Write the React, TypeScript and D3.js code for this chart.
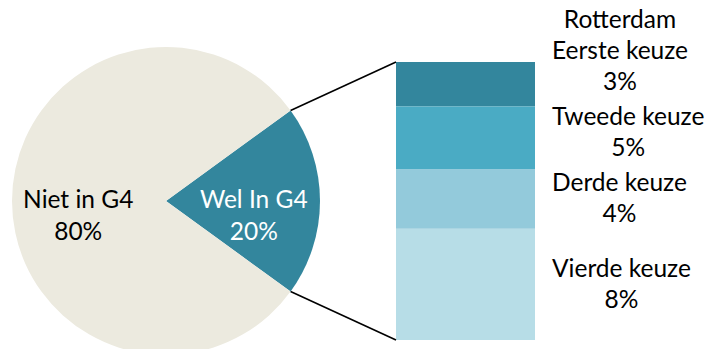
import React, { useEffect, useRef } from "react";
import * as d3 from "d3";

const seriesName = "Rotterdam";
const pieCategories = ["Wel In G4", "Niet in G4"];
const pieValues = [20, 80];
const pieValueLabels = ["20%", "80%"];
const barCategories = ["Eerste keuze", "Tweede keuze", "Derde keuze", "Vierde keuze"];
const barValues = [3.2, 4.5, 4.3, 8.0];
const barValueLabels = ["3%", "5%", "4%", "8%"];

const W = 708;
const H = 349;
const FONT = "Lato, 'Open Sans', sans-serif";
const FS = 24.5;
const LINE = 31;

const pieColors = ["#33869D", "#ECEADF"];
const barColors = ["#33869D", "#4AABC4", "#93CADB", "#B7DDE7"];

export default function App() {
  const ref = useRef<SVGSVGElement>(null);

  useEffect(() => {
    const svg = d3.select(ref.current);
    svg.selectAll("*").remove();

    // ---- Pie ----
    const cx = 166, cy = 201, r = 154;
    const startA = 0.3 * Math.PI;
    const pie = d3.pie<number>().sort(null).value((d) => d).startAngle(startA).endAngle(startA + 2 * Math.PI);
    const arcs = pie(pieValues);
    const arc = d3.arc<d3.PieArcDatum<number>>().innerRadius(0).outerRadius(r);

    const gPie = svg.append("g").attr("transform", `translate(${cx},${cy})`);
    gPie.selectAll("path").data(arcs).join("path").attr("d", arc as any).attr("fill", (_, i) => pieColors[i]);

    arcs.forEach((a, i) => {
      const m = (a.startAngle + a.endAngle) / 2;
      const lx = Math.sin(m) * r * 0.57;
      const ly = -Math.cos(m) * r * 0.57;
      const t = gPie.append("text")
        .attr("text-anchor", "middle")
        .attr("font-family", FONT)
        .attr("font-size", FS)
        .attr("fill", i === 0 ? "#ffffff" : "#000000");
      t.append("tspan").attr("x", lx).attr("y", ly + 7).text(pieCategories[i]);
      t.append("tspan").attr("x", lx).attr("y", ly + 39).text(pieValueLabels[i]);
    });

    // ---- Bar of pie ----
    const x = d3.scaleBand<string>().domain([seriesName]).range([396, 535]).padding(0);
    const total = d3.sum(barValues);
    const y = d3.scaleLinear().domain([0, total]).range([62, 340]);
    const stacked = barValues.map((v, i) => {
      const s = d3.sum(barValues.slice(0, i));
      return { v, i, y0: s, y1: s + v };
    });
    const gBar = svg.append("g");
    gBar.selectAll("rect").data(stacked).join("rect")
      .attr("x", x(seriesName)!)
      .attr("width", x.bandwidth())
      .attr("y", (d) => y(d.y0))
      .attr("height", (d) => y(d.y1) - y(d.y0))
      .attr("fill", (d) => barColors[d.i]);

    // connector lines
    const wel = arcs[0];
    const p1 = [cx + r * Math.sin(wel.startAngle), cy - r * Math.cos(wel.startAngle)];
    const p2 = [cx + r * Math.sin(wel.endAngle), cy - r * Math.cos(wel.endAngle)];
    const bx = x(seriesName)!;
    svg.append("line").attr("x1", p1[0]).attr("y1", p1[1]).attr("x2", bx).attr("y2", y(0)).attr("stroke", "#000").attr("stroke-width", 1.6);
    svg.append("line").attr("x1", p2[0]).attr("y1", p2[1]).attr("x2", bx).attr("y2", y(total)).attr("stroke", "#000").attr("stroke-width", 1.6);

    // labels for bar segments
    const labelLeft = 552;
    const cap = 15.5;
    const blocks = stacked.map((d) => {
      const lines = d.i === 0 ? [seriesName, barCategories[d.i], barValueLabels[d.i]] : [barCategories[d.i], barValueLabels[d.i]];
      const mid = (y(d.y0) + y(d.y1)) / 2;
      const hBlock = (lines.length - 1) * LINE + cap;
      const first = mid - hBlock / 2 + cap;
      return { lines, first };
    });
    // resolve overlap from bottom upwards
    for (let i = blocks.length - 2; i >= 0; i--) {
      const last = blocks[i].first + (blocks[i].lines.length - 1) * LINE;
      const limit = blocks[i + 1].first - LINE - 4;
      if (last > limit) blocks[i].first -= last - limit;
    }
    blocks.forEach((b) => {
      const g = svg.append("g");
      const texts = b.lines.map((s, k) =>
        g.append("text")
          .attr("font-family", FONT)
          .attr("font-size", FS)
          .attr("fill", "#000")
          .attr("y", b.first + k * LINE)
          .text(s)
      );
      const widths = texts.map((t) => (t.node() as SVGTextElement).getComputedTextLength());
      const maxW = d3.max(widths)!;
      texts.forEach((t, k) => t.attr("x", labelLeft + (maxW - widths[k]) / 2));
    });
  }, []);

  return (
    <svg
      ref={ref}
      width={W}
      height={H}
      style={{ position: "absolute", left: 0, top: 0, background: "#fff" }}
    />
  );
}
